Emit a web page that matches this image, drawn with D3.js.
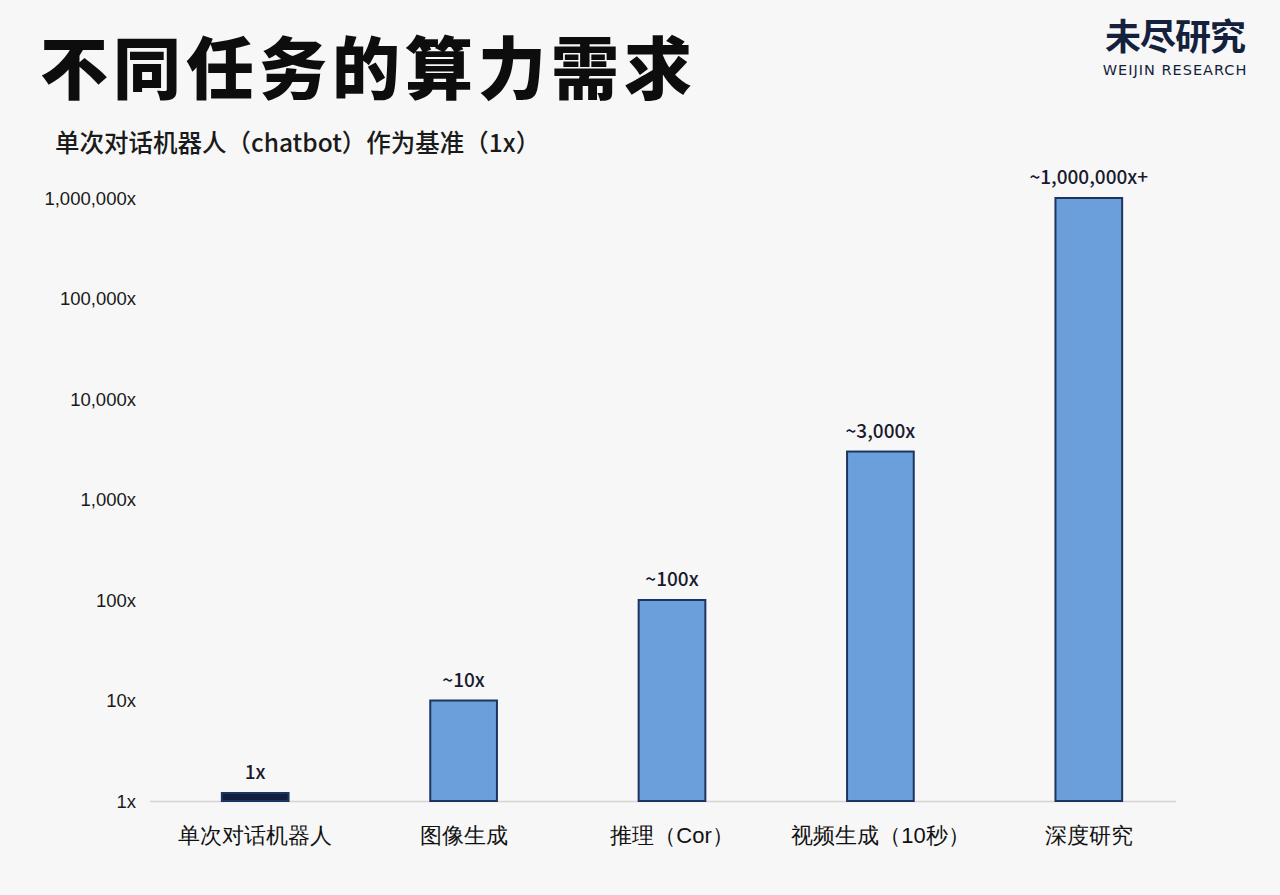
<!DOCTYPE html>
<html><head><meta charset="utf-8">
<script src="https://cdn.jsdelivr.net/npm/d3@7"></script>
<style>
html,body{margin:0;padding:0;background:#f7f7f7;}
svg{display:block;font-family:"Noto Sans CJK SC","Noto Sans",sans-serif;}
</style></head><body>
<svg id="c" width="1280" height="895"></svg>
<script>
const categories = ["单次对话机器人","图像生成","推理（Cor）","视频生成（10秒）","深度研究"];
const values = [1, 10, 100, 3000, 1000000];
const valueLabels = ["1x","~10x","~100x","~3,000x","~1,000,000x+"];
const tickValues = [1,10,100,1000,10000,100000,1000000];
const tickLabels = ["1x","10x","100x","1,000x","10,000x","100,000x","1,000,000x"];

const svg = d3.select("#c");
svg.append("rect").attr("width",1280).attr("height",895).attr("fill","#f7f7f7");

// title
svg.append("text").attr("x",40).attr("y",94).attr("font-size",68).attr("font-weight",900)
  .attr("letter-spacing",5).attr("fill","#0d0d0d").text("不同任务的算力需求");
svg.append("text").attr("x",55).attr("y",152).attr("font-size",24.5).attr("font-weight",500)
  .attr("fill","#1a1a1a").text("单次对话机器人（chatbot）作为基准（1x）");

// logo
svg.append("text").attr("x",1175).attr("y",50).attr("text-anchor","middle").attr("font-size",36)
  .attr("font-weight",700).attr("fill","#14213d").attr("letter-spacing",-1).text("未尽研究");
svg.append("text").attr("x",1175).attr("y",75).attr("text-anchor","middle").attr("font-size",14.5)
  .attr("font-family","DejaVu Sans, sans-serif").attr("letter-spacing",1).attr("fill","#14213d").text("WEIJIN RESEARCH");

const x = d3.scaleBand().domain(categories).range([151,1193]).paddingInner(0.68).paddingOuter(0.34);
const y = d3.scaleLog().domain([1,1000000]).range([801,198]);

// y tick labels
const yAxis = d3.axisLeft(y).tickValues(tickValues).tickFormat((d,i)=>tickLabels[i]).tickSize(0).tickPadding(0);
const ga = svg.append("g").attr("transform","translate(136,0)").call(yAxis);
ga.select(".domain").remove();
ga.selectAll("text").attr("font-size",18.5).attr("fill","#1a1a1a").attr("font-family","Liberation Sans, Arial, sans-serif").attr("dy","0.35em");

// baseline
svg.append("line").attr("x1",150).attr("x2",1176).attr("y1",y(1)+0.5).attr("y2",y(1)+0.5)
  .attr("stroke","#d4d4d4").attr("stroke-width",1.5);

// bars
const minH = 8;
svg.selectAll("rect.bar").data(values).enter().append("rect").attr("class","bar")
  .attr("x",(d,i)=>x(categories[i]))
  .attr("width",x.bandwidth())
  .attr("y",d=> d<=1 ? y(1)-minH : y(d))
  .attr("height",d=> d<=1 ? minH : y(1)-y(d))
  .attr("fill",d=> d<=1 ? "#0f1f3d" : "#6a9fdc")
  .attr("stroke","#1b3560").attr("stroke-width",2);

// value labels
svg.selectAll("text.vl").data(values).enter().append("text").attr("class","vl")
  .attr("x",(d,i)=>x(categories[i])+x.bandwidth()/2)
  .attr("y",d=> (d<=1 ? y(1)-minH : y(d)) - 14)
  .attr("text-anchor","middle").attr("font-size",19).attr("font-weight",500)
  .attr("fill","#1a1a2e").text((d,i)=>valueLabels[i]);

// x labels
const xAxis = d3.axisBottom(x).tickSize(0).tickPadding(0);
const gx = svg.append("g").attr("transform","translate(0,843)").call(xAxis);
gx.select(".domain").remove();
gx.selectAll("text").attr("font-size",22).attr("font-weight",500).attr("fill","#111").attr("dy",0);
</script>
</body></html>
